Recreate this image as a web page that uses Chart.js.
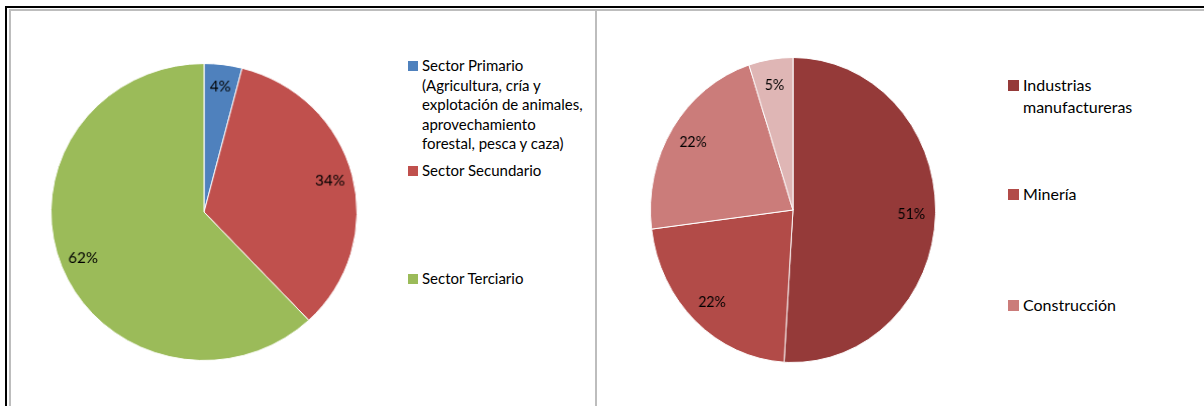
<!DOCTYPE html>
<html lang="es">
<head>
  <meta charset="UTF-8" />
  <title>Sectores</title>
  <script src="https://cdn.jsdelivr.net/npm/chart.js"></script>
  <style>
    html, body {
      margin: 0;
      width: 1204px;
      height: 406px;
      overflow: hidden;
      background: #fff;
      font-family: Lato, "Open Sans", sans-serif;
      color: #000;
    }
    .frame {
      position: absolute;
      left: 5px; top: 6px;
      width: 1400px; height: 600px;
      border-left: 2px solid #000;
      border-top: 2px solid #000;
    }
    .inner {
      position: absolute;
      left: 9px; top: 9px;
      width: 1400px; height: 600px;
      border-left: 2px solid #bdbdbd;
      border-top: 2px solid #bdbdbd;
    }
    .divider {
      position: absolute;
      left: 595px; top: 11px;
      width: 2px; height: 600px;
      background: #bdbdbd;
    }
    .box { position: absolute; transform-origin: 50% 50%; }
    #leftBox { left: 52px; top: 60px; width: 304px; height: 304px; transform: scale(1.01, 0.98); }
    #rightBox { left: 640px; top: 57px; width: 306px; height: 306px; transform: scaleX(0.935); }

    .legend { position: absolute; }
    .item { position: absolute; left: 0; display: flex; align-items: flex-start; }
    .sw { flex: none; }
    #leftLegend { left: 408px; top: 0; }
    #leftLegend .item { font-size: 15px; line-height: 19.5px; width: 190px; }
    #leftLegend .sw { width: 10px; height: 10px; margin: 4.75px 4px 0 0; }
    #leftLegend .txt { width: 166px; }
    #leftLegend .item:nth-child(1) { top: 56px; }
    #leftLegend .item:nth-child(2) { top: 161px; }
    #leftLegend .item:nth-child(3) { top: 269px; }

    #rightLegend { left: 1008px; top: 0; }
    #rightLegend .item { font-size: 16px; line-height: 22px; width: 180px; }
    #rightLegend .sw { width: 11px; height: 11px; margin: 5.5px 4px 0 0; }
    #rightLegend .txt { width: 125px; }
    #rightLegend .item:nth-child(1) { top: 74px; }
    #rightLegend .item:nth-child(2) { top: 183px; }
    #rightLegend .item:nth-child(3) { top: 294px; }
    #rightLegend .item:nth-child(4) { top: 414px; }
  </style>
</head>
<body>
  <div class="frame"></div>
  <div class="inner"></div>
  <div class="divider"></div>

  <div class="box" id="leftBox"><canvas id="leftChart"></canvas></div>
  <div class="legend" id="leftLegend"></div>

  <div class="box" id="rightBox"><canvas id="rightChart"></canvas></div>
  <div class="legend" id="rightLegend"></div>

  <script>
    // sector shares (%)
    const sectorLabels = [
      'Sector Primario (Agricultura, cría y explotación de animales, aprovechamiento forestal, pesca y caza)',
      'Sector Secundario',
      'Sector Terciario'
    ];
    const sectorValues = [4, 34, 62];
    const sectorColors = ['#4f81bd', '#c0504d', '#9bbb59'];

    // secondary sector breakdown (%)
    const secLabels = ['Industrias manufactureras', 'Minería', 'Construcción', 'Electricidad, agua y gas'];
    const secValues = [51, 22, 22, 5];
    const secColors = ['#953a39', '#b24b48', '#cb7c7a', '#dfb6b5'];

    // draws "NN%" inside each slice
    const pctLabels = {
      id: 'pctLabels',
      afterDatasetsDraw(chart, args, opts) {
        const ctx = chart.ctx;
        const meta = chart.getDatasetMeta(0);
        const values = chart.data.datasets[0].data;
        ctx.save();
        ctx.font = '15px Lato, sans-serif';
        ctx.fillStyle = '#000';
        ctx.textAlign = 'center';
        ctx.textBaseline = 'middle';
        meta.data.forEach((arc, i) => {
          const p = arc.getProps(['x', 'y', 'startAngle', 'endAngle', 'outerRadius'], true);
          const mid = (p.startAngle + p.endAngle) / 2;
          const r = p.outerRadius * opts.at;
          ctx.fillText(values[i] + '%', p.x + Math.cos(mid) * r, p.y + Math.sin(mid) * r);
        });
        ctx.restore();
      }
    };

    function makePie(id, labels, values, colors, at) {
      return new Chart(document.getElementById(id), {
        type: 'pie',
        data: {
          labels,
          datasets: [{
            data: values,
            backgroundColor: colors,
            borderColor: '#ffffff',
            borderWidth: 1,
            hoverOffset: 0
          }]
        },
        options: {
          responsive: true,
          maintainAspectRatio: false,
          animation: false,
          events: [],
          layout: { padding: 0 },
          plugins: {
            legend: { display: false },
            tooltip: { enabled: false },
            pctLabels: { at }
          }
        },
        plugins: [pctLabels]
      });
    }

    function makeLegend(id, labels, colors) {
      const el = document.getElementById(id);
      labels.forEach((lab, i) => {
        const item = document.createElement('div');
        item.className = 'item';
        item.innerHTML = '<span class="sw" style="background:' + colors[i] + '"></span><span class="txt">' + lab + '</span>';
        el.appendChild(item);
      });
    }

    makePie('leftChart', sectorLabels, sectorValues, sectorColors, 0.85);
    makePie('rightChart', secLabels, secValues, secColors, 0.83);
    makeLegend('leftLegend', sectorLabels, sectorColors);
    makeLegend('rightLegend', secLabels, secColors);
  </script>
</body>
</html>
